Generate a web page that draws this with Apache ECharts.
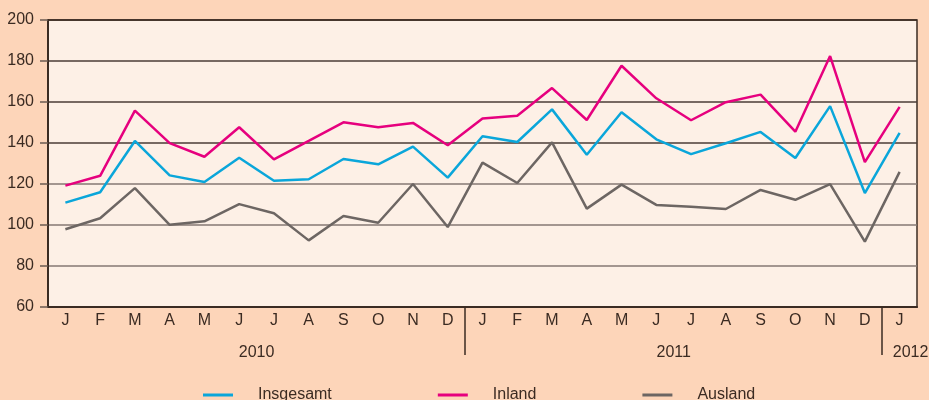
<!DOCTYPE html>
<html>
<head>
<meta charset="utf-8">
<script src="https://cdn.jsdelivr.net/npm/echarts@6/dist/echarts.min.js"></script>
<style>
  html, body { margin: 0; padding: 0; background: #fdd5b9; }
  #chart { width: 929px; height: 400px; }
</style>
</head>
<body>
<div id="chart"></div>
<script>
// Monate (Jan 2010 - Jan 2012)
const months = ['J','F','M','A','M','J','J','A','S','O','N','D',
                'J','F','M','A','M','J','J','A','S','O','N','D','J'];
const years = ['2010', '2011', '2012'];

const insgesamt = [110.9, 116, 141, 124.2, 121, 132.8, 121.6, 122.3, 132.2, 129.6, 138.2, 123.1,
                   143.3, 140.5, 156.4, 134.3, 155, 141.8, 134.6, 139.9, 145.4, 132.7, 158, 115.6, 144.9];
const inland = [119.2, 124, 155.8, 139.9, 133.3, 147.7, 132, 141, 150.1, 147.7, 149.8, 138.9,
                152, 153.3, 166.8, 151.2, 177.7, 161.8, 151.1, 159.9, 163.6, 145.5, 182.4, 130.7, 157.6];
const ausland = [97.9, 103.3, 118, 100.1, 101.8, 110.2, 105.7, 92.5, 104.4, 101.1, 120, 99,
                 130.4, 120.5, 140.3, 108, 119.7, 109.8, 108.9, 107.8, 117.1, 112.3, 119.9, 91.9, 125.9];

const textColor = '#3b2b22';
const n = months.length;
// Jahresgrenzen (jeweils nach 12 Monaten) und Mitte jedes Jahresblocks
const yearStarts = years.map((y, i) => i * 12);
const yearBounds = yearStarts.slice(1);
const yearCenters = yearStarts.map(s => (s + Math.min(s + 12, n)) / 2);

const chart = echarts.init(document.getElementById('chart'));

const option = {
  backgroundColor: '#fdd5b9',
  animation: false,
  textStyle: { fontFamily: 'Liberation Sans, Arial, sans-serif', color: textColor },
  grid: {
    left: 48, right: 12, top: 20, bottom: 93,
    outerBoundsMode: 'none',
    containLabel: false,
    show: true,
    backgroundColor: '#fdf0e6',
    borderColor: '#3b2b22',
    borderWidth: 1.5
  },
  legend: {
    bottom: -8,
    left: 198,
    itemGap: 106,
    itemWidth: 30,
    itemHeight: 3,
    icon: 'rect',
    textStyle: { fontSize: 16, color: textColor, padding: [0, 0, 0, 20] },
    data: ['Insgesamt', 'Inland', 'Ausland']
  },
  xAxis: [
    {
      type: 'category',
      data: months,
      boundaryGap: true,
      axisLine: { lineStyle: { color: '#3b2b22', width: 2 } },
      axisTick: { show: false },
      axisLabel: { color: textColor, fontSize: 16, margin: 6, interval: 0 }
    },
    {
      // Jahresachse: Trennstriche und Jahreszahlen
      type: 'value',
      position: 'bottom',
      min: 0,
      max: n,
      axisLine: { show: false },
      splitLine: { show: false },
      axisTick: {
        show: true,
        customValues: yearBounds,
        length: 48,
        lineStyle: { color: '#3b2b22', width: 1.5 }
      },
      axisLabel: {
        customValues: yearCenters,
        margin: 38,
        fontSize: 16,
        color: textColor,
        formatter: v => {
          const i = yearCenters.indexOf(v);
          if (i < 0) return '';
          return i === years.length - 1 ? '{last|' + years[i] + '}' : years[i];
        },
        rich: {
          last: { fontSize: 16, color: textColor, padding: [0, 0, 0, 22] }
        }
      }
    }
  ],
  yAxis: {
    type: 'value',
    min: 60,
    max: 200,
    interval: 20,
    axisLine: { show: true, lineStyle: { color: '#3b2b22', width: 2 } },
    axisTick: { show: true, length: 8, lineStyle: { color: '#6b5a50', width: 1.5 } },
    axisLabel: { color: textColor, fontSize: 16, margin: 14 },
    splitLine: {
      lineStyle: {
        color: ['#3b2b22', '#857873', '#857873', '#857873', '#4a3c36', '#4a3c36', '#4a3c36', '#3b2b22'],
        width: 1.5
      }
    }
  },
  series: [
    {
      name: 'Insgesamt', type: 'line', data: insgesamt,
      symbol: 'none', color: '#0aa6da', lineStyle: { width: 2.5 }
    },
    {
      name: 'Inland', type: 'line', data: inland,
      symbol: 'none', color: '#e6007e', lineStyle: { width: 2.5 }
    },
    {
      name: 'Ausland', type: 'line', data: ausland,
      symbol: 'none', color: '#6d6663', lineStyle: { width: 2.5 }
    }
  ]
};

chart.setOption(option);
</script>
</body>
</html>
